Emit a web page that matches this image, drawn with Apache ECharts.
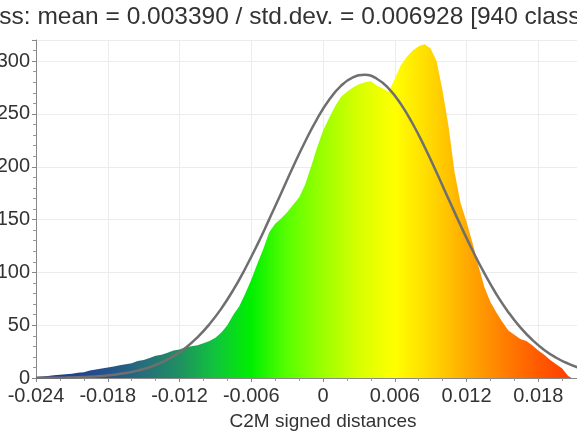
<!DOCTYPE html>
<html><head><meta charset="utf-8">
<script src="https://cdn.jsdelivr.net/npm/echarts@6/dist/echarts.min.js"></script>
<style>html,body{margin:0;padding:0;background:#fff}#c{width:577px;height:440px}</style>
</head><body><div id="c"></div>
<script>
const chartTitle = 'Gauss: mean = 0.003390 / std.dev. = 0.006928 [940 classes]';
const xAxisName = 'C2M signed distances';
const xTickValues = [-0.024, -0.018, -0.012, -0.006, 0, 0.006, 0.012, 0.018];
const yTickValues = [0, 50, 100, 150, 200, 250, 300];

const histX = [-0.0240,-0.0235,-0.0230,-0.0225,-0.0220,-0.0215,-0.0210,-0.0205,-0.0200,-0.0195,
  -0.0190,-0.0185,-0.0180,-0.0175,-0.0170,-0.0165,-0.0160,-0.0155,-0.0150,-0.0145,
  -0.0140,-0.0135,-0.0130,-0.0125,-0.0120,-0.0115,-0.0110,-0.0105,-0.0100,-0.0095,
  -0.0090,-0.0085,-0.0080,-0.0075,-0.0070,-0.0065,-0.0060,-0.0055,-0.0050,-0.0045,
  -0.0040,-0.0035,-0.0030,-0.0025,-0.0020,-0.0015,-0.0010,-0.0005,0.0000,0.0005,
  0.0010,0.0015,0.0020,0.0025,0.0030,0.0035,0.0040,0.0045,0.0050,0.0055,
  0.0060,0.0065,0.0070,0.0075,0.0080,0.0085,0.0090,0.0095,0.0100,0.0105,
  0.0110,0.0115,0.0120,0.0125,0.0130,0.0135,0.0140,0.0145,0.0150,0.0155,
  0.0160,0.0165,0.0170,0.0175,0.0180,0.0185,0.0190,0.0195,0.0200,0.0205,0.0208];
const histCounts = [1,1.5,2,2.5,3,3.6,4,5,5.5,7,
  8,9,10,11,12,13,14,16,17,19,
  21,22,24,26,27,29,30,31,33,35,
  38,43,50,60,68,80,93,108,122,138,
  146,151,157,164,171,183,200,218,234,246,
  257,266,271,275,278,280,281,277,274,271,
  283,296,304,310,314,316,312,300,272,238,
  195,166,148,128,106,86,72,62,53,45,
  41,37,35,31,26,22,17,13,9,2,0];

const gaussX = [-0.0240,-0.0235,-0.0225,-0.0215,-0.0205,-0.0195,-0.0185,-0.0175,-0.0165,-0.0155,
  -0.0145,-0.0135,-0.0125,-0.0115,-0.0105,-0.0095,-0.0085,-0.0075,-0.0065,-0.0055,
  -0.0045,-0.0035,-0.0025,-0.0015,-0.0005,0.0005,0.0015,0.0025,0.0035,0.0045,
  0.0055,0.0065,0.0075,0.0085,0.0095,0.0105,0.0115,0.0125,0.0135,0.0145,
  0.0155,0.0165,0.0175,0.0185,0.0195,0.0205,0.0215,0.0225];
const gaussCounts = [0.12,0.15,0.27,0.45,0.75,1.2,2.0,3.1,4.7,7.0,
  10.2,14.7,20.7,28.5,38.5,50.9,65.8,83.4,103.7,126.0,
  150.2,175.0,200.0,223.7,245.2,263.1,276.5,284.6,287.0,283.3,
  274.0,259.5,240.7,218.7,194.5,169.5,144.6,120.9,99.0,79.3,
  62.3,47.9,36.1,26.6,19.2,13.6,9.4,6.4];

const chart = echarts.init(document.getElementById('c'), null, {renderer: 'canvas'});
const font = 'Liberation Sans, Arial, sans-serif';
const fmt = v => String(Number(v.toFixed(3)));

chart.setOption({
  animation: false,
  backgroundColor: '#fff',
  title: {
    text: chartTitle, left: -52, top: 0,
    textStyle: {fontFamily: font, fontSize: 24.5, fontWeight: 'normal', color: '#333'}
  },
  grid: {left: 36, right: -33, top: 40, bottom: 62, containLabel: false, outerBoundsMode: 'none'},
  xAxis: {
    type: 'value', min: xTickValues[0], max: 0.024, interval: 0.006,
    axisLine: {onZero: false, lineStyle: {color: '#888', width: 1}},
    axisTick: {show: true, length: 4, lineStyle: {color: '#888'}},
    minorTick: {show: true, splitNumber: 3, length: 3, lineStyle: {color: '#999'}},
    splitLine: {show: true, lineStyle: {color: '#ececec', width: 1}},
    axisLabel: {formatter: fmt, fontFamily: font, fontSize: 20, color: '#333', margin: 8, showMaxLabel: false},
    name: xAxisName, nameLocation: 'middle', nameGap: 34,
    nameTextStyle: {fontFamily: font, fontSize: 19, color: '#333'}
  },
  yAxis: {
    type: 'value', min: 0, max: 320, interval: 50,
    axisLine: {show: true, onZero: false, lineStyle: {color: '#888', width: 1}},
    axisTick: {show: true, length: 4, lineStyle: {color: '#888'}},
    minorTick: {show: true, splitNumber: 5, length: 3, lineStyle: {color: '#999'}},
    splitLine: {show: true, lineStyle: {color: '#ececec', width: 1}},
    axisLabel: {fontFamily: font, fontSize: 20, color: '#333', margin: 6, showMaxLabel: false}
  },
  series: [
    {
      type: 'line', name: 'hist', symbol: 'none', smooth: false,
      data: histX.map((x, i) => [x, histCounts[i]]),
      lineStyle: {width: 0},
      areaStyle: {
        opacity: 1,
        color: new echarts.graphic.LinearGradient(0, 0, 1, 0, [
          {offset: 0.00, color: '#1c2f96'},
          {offset: 0.134, color: '#24538c'},
          {offset: 0.20, color: '#266e7c'},
          {offset: 0.268, color: '#1f9060'},
          {offset: 0.335, color: '#10c43c'},
          {offset: 0.402, color: '#00f000'},
          {offset: 0.469, color: '#58ff00'},
          {offset: 0.536, color: '#9cff00'},
          {offset: 0.603, color: '#d8ff00'},
          {offset: 0.670, color: '#ffff00'},
          {offset: 0.737, color: '#ffd800'},
          {offset: 0.804, color: '#ffaa00'},
          {offset: 0.871, color: '#ff8000'},
          {offset: 0.938, color: '#ff5a00'},
          {offset: 1.00, color: '#ff3c00'}
        ])
      },
      z: 2
    },
    {
      type: 'line', name: 'gauss', symbol: 'none', smooth: true,
      data: gaussX.map((x, i) => [x, gaussCounts[i]]),
      lineStyle: {color: '#6f6f6f', width: 2.5},
      z: 3
    }
  ]
});
</script></body></html>
